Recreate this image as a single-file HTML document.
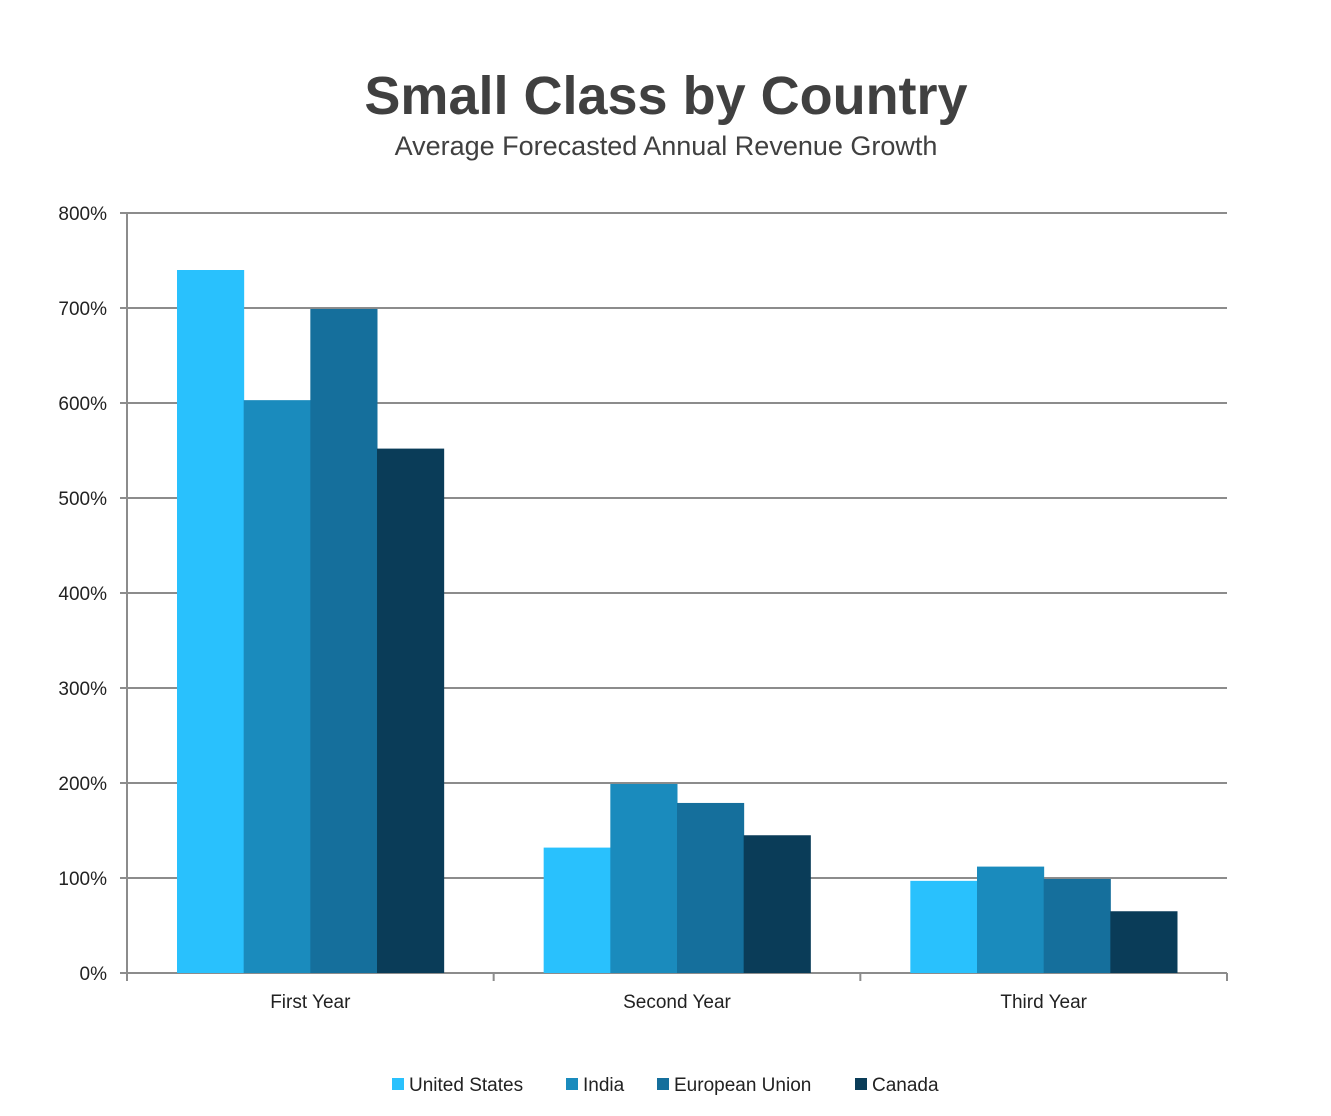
<!DOCTYPE html>
<html><head><meta charset="utf-8"><style>
body{margin:0;background:#fff;font-family:"Liberation Sans",sans-serif;}
svg{display:block}
</style></head><body>
<svg width="1331" height="1116" viewBox="0 0 1331 1116" xmlns="http://www.w3.org/2000/svg" id="chart">
<text x="666" y="114" text-anchor="middle" font-size="54" font-weight="bold" fill="#404040">Small Class by Country</text>
<text x="666" y="155" text-anchor="middle" font-size="27" fill="#404040">Average Forecasted Annual Revenue Growth</text>
<g id="grid"></g><g id="bars"></g><g id="axes"></g><g id="legend"></g>
</svg>
<script>
const categories=["First Year","Second Year","Third Year"];
const seriesNames=["United States","India","European Union","Canada"];
const usValues=[740,132,97];
const indiaValues=[603,199,112];
const euValues=[699,179,99];
const canadaValues=[552,145,65];
const yTicks=[0,100,200,300,400,500,600,700,800];
const series=[usValues,indiaValues,euValues,canadaValues];
const colors=["#29c1fd","#1a8bbd","#156f9c","#0a3c58"];
const NS="http://www.w3.org/2000/svg";
const x0=127,x1=1227,yBase=973,yTop=213,yMax=800;
const y=v=>yBase-(v/yMax)*(yBase-yTop);
const gw=(x1-x0)/categories.length,pad=50,bw=(gw-2*pad)/series.length;
function mk(t,a,p){const e=document.createElementNS(NS,t);for(const k in a)e.setAttribute(k,a[k]);p.appendChild(e);return e;}
const grid=document.getElementById('grid'),bars=document.getElementById('bars'),axes=document.getElementById('axes'),legend=document.getElementById('legend');
yTicks.forEach(t=>{
 const l=mk('line',{x1:120,x2:x1,y1:y(t),y2:y(t),stroke:'#8c8c8c','stroke-width':2},grid);
 
 
 const tx=mk('text',{x:107,y:y(t)+7,'text-anchor':'end','font-size':19,fill:'#222'},axes);
 tx.textContent=t+'%';
 
 
});
categories.forEach((c,i)=>{
 series.forEach((s,j)=>{
  const r=mk('rect',{x:x0+i*gw+pad+j*bw,y:y(s[i]),width:bw+0.5,height:yBase-y(s[i]),fill:colors[j]},bars);
  
  
 });
 const tx=mk('text',{x:x0+i*gw+gw/2,y:1008,'text-anchor':'middle','font-size':19,fill:'#222'},axes);
 tx.textContent=c;
 
 
});
for(let i=0;i<=categories.length;i++){
 const l=mk('line',{x1:x0+i*gw,x2:x0+i*gw,y1:yBase,y2:981,stroke:'#8c8c8c','stroke-width':2},axes);
 
 
}
const ya=mk('line',{x1:x0,x2:x0,y1:yTop,y2:yBase,stroke:'#8c8c8c','stroke-width':2},axes);


const lx=[392,566,657,855];
seriesNames.forEach((n,j)=>{
 const g=mk('g',{},legend);
 
 
 mk('rect',{x:lx[j],y:1078,width:12,height:12,fill:colors[j]},g);
 const t=mk('text',{x:lx[j]+17,y:1091,'font-size':19,fill:'#222'},g);
 t.textContent=n;
});
</script>
</body></html>
